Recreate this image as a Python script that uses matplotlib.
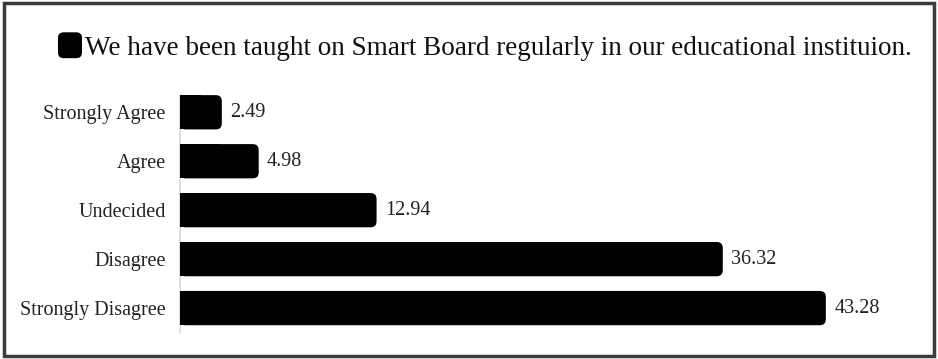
import matplotlib.pyplot as plt
from matplotlib.patches import FancyBboxPatch, Rectangle

categories = ['Strongly Agree', 'Agree', 'Undecided', 'Disagree', 'Strongly Disagree']
values = [2.49, 4.98, 12.94, 36.32, 43.28]
title = 'We have been taught on Smart Board regularly in our educational instituion.'

plt.rcParams['font.family'] = ['Liberation Serif', 'DejaVu Serif']

fig = plt.figure(figsize=(9.38, 3.59), dpi=100)
ax = fig.add_axes([0.1915, 0.075, 0.795, 0.66])

bars = ax.barh(range(len(values)), values, height=0.7, color='black')
ax.set_xlim(-0.36, 50)
ax.set_ylim(4.49, -0.35)

# rounded right ends, square left ends starting at the axis line
fig.canvas.draw()
bb = ax.get_window_extent()
xpp = 50.36 / bb.width
ypp = (4.49 + 0.35) / bb.height
ext = 0.36
for b in bars:
    x, y = b.get_x(), b.get_y()
    w, h = b.get_width(), b.get_height()
    b.set_visible(False)
    r = 6 * xpp
    ax.add_patch(FancyBboxPatch((x - ext, y), w + ext, h,
                                boxstyle=f'round,pad=0,rounding_size={r}',
                                mutation_aspect=ypp / xpp,
                                fc='black', ec='none', zorder=3))
    ax.add_patch(Rectangle((x - ext, y), (w + ext) / 2, h, fc='black', ec='none', zorder=3))
    ax.annotate(f'{w:.2f}', (x + w, y + h / 2), xytext=(6, 0), textcoords='offset points',
                va='center', ha='left', fontsize=14.5, color='#222222')

ax.set_yticks(range(len(categories)))
ax.set_yticklabels(categories, fontsize=14.5, color='#222222')
ax.tick_params(axis='y', length=0, pad=10)
ax.set_xticks([])
for s in ['top', 'right', 'bottom']:
    ax.spines[s].set_visible(False)
ax.spines['left'].set_color('#d9d9d9')
ax.spines['left'].set_linewidth(1.2)

# title with legend marker
fig.text(0.0906, 0.866, title, fontsize=19.5, ha='left', va='center', color='#111111')
fig.patches.append(FancyBboxPatch((0.0618, 0.838), 0.0256, 0.072,
                                  boxstyle='round,pad=0,rounding_size=0.006',
                                  mutation_aspect=938 / 359,
                                  transform=fig.transFigure, fc='black', ec='none'))

fig.patches.append(Rectangle((0.004, 0.008), 0.992, 0.984, transform=fig.transFigure,
                             fill=False, ec='#3a3a3a', lw=2.5))

fig.savefig('out.png', dpi=100)
